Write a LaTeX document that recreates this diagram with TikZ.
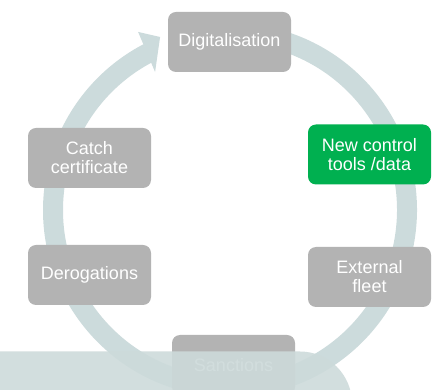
\documentclass[tikz,border=0pt]{standalone}
\usepackage{fontspec}
\setmainfont{Liberation Sans}
\usepackage{xcolor}
\usetikzlibrary{arrows.meta}
\usetikzlibrary{calc}

\definecolor{cyclering}{RGB}{204,219,220}
\definecolor{cyclebox}{RGB}{179,179,179}
\definecolor{cyclegreen}{RGB}{0,176,80}
\definecolor{cyclecover}{RGB}{205,218,218}

\tikzset{
  cyclestep/.style={rectangle, rounded corners=8pt, fill=cyclebox, text=white,
    minimum width=123pt, minimum height=60pt, inner sep=0pt, align=center,
    font=\fontsize{18}{19}\selectfont},
  cyclefocus/.style={cyclestep, fill=cyclegreen},
}

\begin{document}
\begin{tikzpicture}[x=1pt,y=1pt]
        \newcommand{\figcyclecx}{230}
        \newcommand{\figcyclecy}{180}
        \newcommand{\figcyclerad}{177}
        \newcommand{\figcyclestart}{85}
        \newcommand{\figcycleend}{-242.5}
        \newcommand{\figcyclecovery}{38.5}
        \newcommand{\figcyclecoverx}{300}
        \newcommand{\figcyclecoverrad}{52}
        \useasboundingbox (0,0) rectangle (441,390);
        \clip (0,0) rectangle (441,390);
        \draw[cyclering, line width=20pt, shift={(\figcyclecx,\figcyclecy)}] (\figcyclestart:\figcyclerad) arc[start angle=\figcyclestart, end angle=\figcycleend, radius=\figcyclerad];
        \fill[cyclering, shift={(\figcyclecx,\figcyclecy)}] (117.3:200.4) -- (112:186.6) -- (118.5:157) -- cycle;
        \node[cyclestep] (digit) at (229.5,348) {Digitalisation};
        \node[cyclefocus] (newtools) at (369.5,235.5) {New control\\tools /data};
        \node[cyclestep] (extfleet) at (369.5,113) {External\\fleet};
        \node[cyclestep] (sanctions) at (233.5,25) {Sanctions};
        \node[cyclestep] (derog) at (89.5,115) {Derogations};
        \node[cyclestep] (catchcert) at (89.5,232) {Catch\\certificate};
        \fill[cyclecover, opacity=0.9] (0,-10) -- (0,\figcyclecovery) -- (\figcyclecoverx,\figcyclecovery) arc[start angle=90, end angle=0, radius=\figcyclecoverrad] -- (\figcyclecoverx+\figcyclecoverrad,-10) -- cycle;
    \end{tikzpicture}
\end{document}
